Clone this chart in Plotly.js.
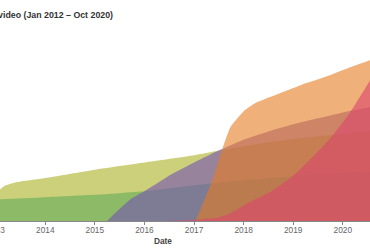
<!DOCTYPE html>
<html>
<head>
<meta charset="utf-8">
<script src="https://cdn.plot.ly/plotly-3.0.1.min.js"></script>
<style>
  html, body { margin: 0; padding: 0; width: 370px; height: 250px; overflow: hidden; background: #fff; }
  #chart { position: absolute; left: -154px; top: 0; width: 554px; height: 250px; }
</style>
</head>
<body>
<div id="chart"></div>
<script>
// Cumulative views in billions
const gangnamX = ['2012-01-01','2012-07-15','2012-09-01','2012-11-01','2013-01-01','2013-03-01','2013-06-01','2014-01-01','2015-01-01','2016-01-01','2017-01-01','2017-07-01','2018-07-01','2019-07-01','2020-10-01'];
const gangnamY = [0, 0, 0.2, 0.8, 1.15, 1.45, 1.62, 1.8, 2.15, 2.45, 2.75, 2.95, 3.3, 3.55, 3.8];

const babyX = ['2012-01-01','2013-01-01','2014-01-01','2015-01-01','2016-01-01','2017-01-01','2018-01-01','2019-01-01','2020-01-01','2020-10-01'];
const babyY = [0.68, 0.9, 1.0, 1.1, 1.25, 1.5, 1.72, 1.88, 2.02, 2.1];

const seeYouX = ['2015-04-01','2015-07-01','2015-10-01','2016-01-01','2016-07-01','2017-01-01','2017-07-01','2018-01-01','2018-07-01','2019-01-01','2019-07-01','2020-01-01','2020-10-01'];
const seeYouY = [0, 0.5, 0.95, 1.25, 1.9, 2.45, 2.95, 3.4, 3.75, 4.05, 4.3, 4.55, 4.85];

const despacitoX = ['2017-01-10','2017-03-01','2017-05-15','2017-07-25','2017-09-25','2018-01-01','2018-04-01','2018-09-01','2019-03-01','2019-09-01','2020-03-01','2020-10-01'];
const despacitoY = [0, 0.65, 1.7, 2.97, 3.93, 4.6, 4.95, 5.3, 5.7, 6.05, 6.45, 6.88];

const sharkX = ['2016-06-15','2017-01-01','2017-07-01','2017-10-01','2018-02-01','2018-07-15','2018-12-10','2019-05-01','2019-10-01','2020-02-25','2020-07-20','2020-10-01'];
const sharkY = [0, 0.05, 0.15, 0.33, 0.75, 1.21, 1.8, 2.55, 3.47, 4.56, 5.9, 6.6];

const names = ['PSY - Gangnam Style', 'Justin Bieber - Baby', 'See You Again', 'Despacito', 'Baby Shark Dance'];
const fills = ['rgba(172,177,33,0.6)', 'rgba(98,171,90,0.6)', 'rgba(118,84,178,0.62)', 'rgba(230,123,33,0.6)', 'rgba(220,69,110,0.6)'];
const xs = [gangnamX, babyX, seeYouX, despacitoX, sharkX];
const ys = [gangnamY, babyY, seeYouY, despacitoY, sharkY];

const traces = xs.map((x, i) => ({
  type: 'scatter', mode: 'lines', x: x, y: ys[i], name: names[i],
  fill: 'tozeroy', fillcolor: fills[i],
  line: { width: 0, shape: 'spline', smoothing: 0.5, color: fills[i] },
  hoverinfo: 'skip', showlegend: false
}));

const layout = {
  width: 554, height: 250,
  margin: { l: 100, r: 20, t: 42, b: 29 },
  paper_bgcolor: '#fff', plot_bgcolor: '#fff',
  font: { family: 'Liberation Sans, Arial, sans-serif', size: 8, color: '#555' },
  title: {
    text: '<b>Cumulative YouTube views per video (Jan 2012 – Oct 2020)</b>',
    font: { size: 8.8, color: '#333', family: 'Liberation Sans, Arial, sans-serif' },
    xref: 'container', x: 267 / 554, xanchor: 'right',
    yref: 'container', y: 1 - 15 / 250, yanchor: 'middle'
  },
  xaxis: {
    type: 'date', range: ['2012-01-01', '2020-10-01'],
    showgrid: false, zeroline: false,
    showline: true, linecolor: '#888', linewidth: 1,
    ticks: 'outside', ticklen: 3, tickcolor: '#888',
    dtick: 'M12', tick0: '2012-01-01', tickformat: '%Y',
    ticklabelstandoff: -2,
    tickfont: { size: 8.3, color: '#666' },
    title: { text: '<b>Date</b>', font: { size: 8.3, color: '#444' }, standoff: 4 }
  },
  yaxis: {
    range: [0, 7.5], showgrid: false, zeroline: false, showline: false,
    showticklabels: false
  }
};

Plotly.newPlot('chart', traces, layout, { displayModeBar: false, staticPlot: true });
</script>
</body>
</html>
